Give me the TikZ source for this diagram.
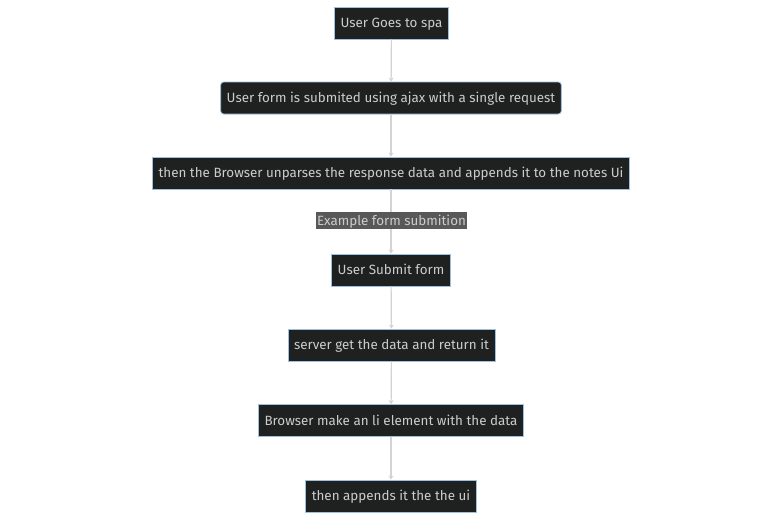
\documentclass[tikz,border=0pt]{standalone}
\usepackage{fontspec}
\setmainfont{Fira Sans}
\usetikzlibrary{arrows.meta}
\definecolor{nodefill}{HTML}{1F2020}
\definecolor{nodeline}{HTML}{9CC0E0}
\definecolor{nodetext}{HTML}{CCCCCC}
\definecolor{edgecol}{HTML}{D3D3D3}
\definecolor{lblfill}{HTML}{585858}
\begin{document}
\begin{tikzpicture}[x=1pt,y=-1pt,
  box/.style={draw=nodeline, fill=nodefill, text=nodetext, line width=0.8pt,
    minimum height=32pt, inner xsep=6pt, text height=10pt, text depth=1pt,
    font=\fontsize{13.4}{15}\selectfont},
  rbox/.style={box, rounded corners=3pt},
  lbl/.style={fill=lblfill, text=nodetext, inner xsep=1pt, inner ysep=1.5pt,
    minimum height=17pt, text height=10pt, text depth=1pt,
    font=\fontsize{13.4}{15}\selectfont},
  edge/.style={draw=edgecol, line width=1.2pt, -{Stealth[length=4pt,width=5pt]}}]
\useasboundingbox (0,0) rectangle (783,520);
\node[box]  (n1) at (391.5,23) {User Goes to spa};
\node[rbox] (n2) at (391,98) {User form is submited using ajax with a single request};
\node[box]  (n3) at (391,173) {then the Browser unparses the response data and appends it to the notes Ui};
\node[box]  (n4) at (391,270) {User Submit form};
\node[box]  (n5) at (391.5,345) {server get the data and return it};
\node[box]  (n6) at (391,420.5) {Browser make an li element with the data};
\node[box]  (n7) at (391,496) {then appends it the the ui};
\draw[edge] (n1) -- (n2);
\draw[edge] (n2) -- (n3);
\draw[edge] (n3) -- (n4);
\node[lbl] (l1) at (391.5,220.5) {Example form submition};
\draw[edge] (n4) -- (n5);
\draw[edge] (n5) -- (n6);
\draw[edge] (n6) -- (n7);
\end{tikzpicture}
\end{document}
